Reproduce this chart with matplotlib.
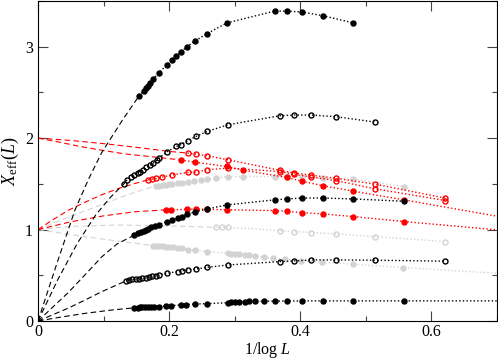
import matplotlib.pyplot as plt
from matplotlib.ticker import MultipleLocator

plt.rcParams['font.family'] = ['Liberation Serif', 'DejaVu Serif']
plt.rcParams['mathtext.fontset'] = 'custom'
plt.rcParams['mathtext.rm'] = 'Liberation Serif'
plt.rcParams['mathtext.it'] = 'Liberation Serif:italic'

# === datos: x = 1/log L, y = X_eff(L) ===
# negro lleno, arriba
a_x = [0.154, 0.161, 0.164, 0.168, 0.171, 0.176, 0.184, 0.196, 0.205, 0.211, 0.218,
       0.227, 0.239, 0.257, 0.288, 0.361, 0.379, 0.402, 0.434, 0.481]
a_y = [2.46, 2.52, 2.55, 2.57, 2.60, 2.65, 2.71, 2.80, 2.86, 2.90, 2.94,
       3.00, 3.06, 3.14, 3.26, 3.39, 3.39, 3.38, 3.34, 3.26]
a_fit_x = [0.0, 0.03, 0.0565, 0.077, 0.097, 0.129, 0.154]
a_fit_y = [0.0, 0.655, 1.216, 1.55, 1.84, 2.20, 2.46]

# negro abierto, segundo
b_x = [0.131, 0.136, 0.142, 0.147, 0.152, 0.155, 0.160, 0.165, 0.171, 0.176, 0.181,
       0.185, 0.196, 0.211, 0.218, 0.228, 0.241, 0.258, 0.290, 0.369, 0.390, 0.417,
       0.455, 0.514]
b_y = [1.50, 1.544, 1.574, 1.599, 1.618, 1.635, 1.654, 1.679, 1.701, 1.727, 1.756,
       1.782, 1.848, 1.909, 1.928, 1.971, 2.019, 2.073, 2.147, 2.245, 2.253, 2.253,
       2.234, 2.176]
b_fit_x = [0.0, 0.03, 0.06, 0.088, 0.11, 0.131]
b_fit_y = [0.0, 0.45, 0.85, 1.16, 1.35, 1.50]

# negro lleno, medio
c_x = [0.147, 0.153, 0.157, 0.161, 0.164, 0.168, 0.173, 0.178, 0.184, 0.196, 0.205,
       0.213, 0.219, 0.227, 0.240, 0.258, 0.288, 0.361, 0.379, 0.402, 0.434, 0.481, 0.558]
c_y = [0.94, 0.96, 0.97, 0.985, 1.0, 1.01, 1.025, 1.04, 1.055, 1.085, 1.10,
       1.125, 1.14, 1.165, 1.195, 1.225, 1.27, 1.325, 1.335, 1.345, 1.345, 1.335, 1.31]
c_fit_x = [0.0, 0.046, 0.075, 0.097, 0.12, 0.147]
c_fit_y = [0.0, 0.31, 0.53, 0.70, 0.84, 0.94]

# negro abierto, abajo
d_x = [0.134, 0.139, 0.144, 0.149, 0.154, 0.159, 0.164, 0.169, 0.174, 0.180, 0.185,
       0.196, 0.213, 0.220, 0.228, 0.241, 0.258, 0.290, 0.369, 0.390, 0.417, 0.455,
       0.514, 0.621]
d_y = [0.438, 0.449, 0.456, 0.46, 0.463, 0.467, 0.474, 0.482, 0.489, 0.497, 0.504,
       0.522, 0.54, 0.55, 0.559, 0.569, 0.587, 0.613, 0.65, 0.657, 0.668, 0.668,
       0.665, 0.654]
d_fit_x = [0.0, 0.046, 0.072, 0.097, 0.134]
d_fit_y = [0.0, 0.14, 0.23, 0.32, 0.438]

# negro lleno, el mas bajo (ultimo punto L=4, fuera del eje)
e_x = [0.147, 0.152, 0.155, 0.159, 0.163, 0.167, 0.172, 0.177, 0.184, 0.195, 0.203,
       0.218, 0.225, 0.240, 0.257, 0.289, 0.294, 0.301, 0.307, 0.315, 0.322, 0.331,
       0.345, 0.361, 0.379, 0.402, 0.434, 0.481, 0.558, 0.721]
e_y = [0.145, 0.147, 0.148, 0.149, 0.150, 0.151, 0.153, 0.155, 0.157, 0.165, 0.168,
       0.176, 0.18, 0.185, 0.19, 0.20, 0.205, 0.208, 0.21, 0.212, 0.214, 0.215,
       0.216, 0.218, 0.219, 0.22, 0.22, 0.22, 0.22, 0.22]
e_fit_x = [0.0, 0.03, 0.072, 0.11, 0.147]
e_fit_y = [0.0, 0.037, 0.084, 0.118, 0.145]

# rojo abierto, arriba
r1_x = [0.228, 0.241, 0.258, 0.290, 0.369, 0.390, 0.417, 0.455, 0.514, 0.621]
r1_y = [1.837, 1.826, 1.807, 1.763, 1.648, 1.62, 1.595, 1.56, 1.497, 1.344]
r1_fit_x = [0.0, 0.05, 0.1, 0.15, 0.2, 0.228]
r1_fit_y = [2.0, 1.975, 1.94, 1.90, 1.855, 1.837]

# rojo lleno, arriba
r2_x = [0.218, 0.239, 0.288, 0.313, 0.379, 0.402, 0.434, 0.481, 0.558, 0.721]
r2_y = [1.762, 1.737, 1.69, 1.65, 1.57, 1.53, 1.48, 1.42, 1.325, 1.12]
r2_fit_x = [0.0, 0.03, 0.06, 0.093, 0.13, 0.169, 0.218]
r2_fit_y = [2.0, 1.96, 1.915, 1.873, 1.83, 1.80, 1.762]

# rojo abierto, medio
r3_x = [0.168, 0.174, 0.180, 0.189, 0.204, 0.228, 0.241, 0.258, 0.290, 0.369, 0.390,
        0.417, 0.455, 0.514, 0.621]
r3_y = [1.544, 1.552, 1.559, 1.574, 1.596, 1.625, 1.629, 1.654, 1.673, 1.635, 1.605,
        1.575, 1.535, 1.446, 1.318]
r3_fit_x = [0.0, 0.021, 0.046, 0.072, 0.097, 0.123, 0.148, 0.168]
r3_fit_y = [1.0, 1.10, 1.21, 1.30, 1.38, 1.45, 1.505, 1.544]

# rojo lleno, abajo
r4_x = [0.195, 0.203, 0.227, 0.241, 0.258, 0.288, 0.361, 0.379, 0.402, 0.434, 0.481,
        0.558, 0.721]
r4_y = [1.216, 1.216, 1.223, 1.223, 1.223, 1.216, 1.208, 1.20, 1.186, 1.172, 1.142,
        1.088, 0.984]
r4_fit_x = [0.0, 0.05, 0.1, 0.148, 0.195]
r4_fit_y = [1.0, 1.085, 1.15, 1.195, 1.216]

# gris lleno, arriba
g1_x = [0.180, 0.185, 0.19, 0.195, 0.2, 0.205, 0.213, 0.220, 0.228, 0.238, 0.248,
        0.258, 0.271, 0.289, 0.313, 0.361, 0.379, 0.402, 0.434, 0.481, 0.558]
g1_y = [1.479, 1.482, 1.486, 1.49, 1.497, 1.50, 1.508, 1.514, 1.525, 1.536, 1.54,
        1.551, 1.562, 1.58, 1.58, 1.58, 1.575, 1.575, 1.563, 1.552, 1.47]
g1_fit_x = [0.0, 0.03, 0.07, 0.1, 0.14, 0.18]
g1_fit_y = [1.0, 1.09, 1.20, 1.28, 1.39, 1.479]

# gris abierto
g2_x = [0.271, 0.280, 0.289, 0.369, 0.390, 0.417, 0.455, 0.514, 0.621]
g2_y = [1.025, 1.025, 1.025, 0.989, 0.978, 0.967, 0.953, 0.923, 0.869]
g2_fit_x = [0.0, 0.05, 0.12, 0.2, 0.271]
g2_fit_y = [1.0, 1.035, 1.05, 1.04, 1.025]

# gris lleno, abajo
g3_x = [0.175, 0.18, 0.185, 0.19, 0.195, 0.2, 0.206, 0.213, 0.22, 0.228, 0.24, 0.257,
        0.289, 0.294, 0.301, 0.307, 0.315, 0.322, 0.331, 0.345, 0.359, 0.377, 0.401,
        0.433, 0.480, 0.556, 0.721]
g3_y = [0.825, 0.82, 0.82, 0.815, 0.81, 0.81, 0.805, 0.80, 0.795, 0.78, 0.775, 0.76,
        0.74, 0.734, 0.734, 0.731, 0.723, 0.719, 0.712, 0.698, 0.687, 0.676, 0.66,
        0.643, 0.621, 0.584, 0.513]
g3_fit_x = [0.0, 0.05, 0.1, 0.175]
g3_fit_y = [1.0, 0.945, 0.895, 0.825]

GRAY = '#d3d3d3'
RED = '#ff0000'
# orden de dibujo: gris abajo, luego rojo, negro encima
series = [
    (g3_x, g3_y, g3_fit_x, g3_fit_y, GRAY, True),
    (g2_x, g2_y, g2_fit_x, g2_fit_y, GRAY, False),
    (g1_x, g1_y, g1_fit_x, g1_fit_y, GRAY, True),
    (r4_x, r4_y, r4_fit_x, r4_fit_y, RED, True),
    (r3_x, r3_y, r3_fit_x, r3_fit_y, RED, False),
    (r2_x, r2_y, r2_fit_x, r2_fit_y, RED, True),
    (r1_x, r1_y, r1_fit_x, r1_fit_y, RED, False),
    (e_x, e_y, e_fit_x, e_fit_y, 'black', True),
    (d_x, d_y, d_fit_x, d_fit_y, 'black', False),
    (c_x, c_y, c_fit_x, c_fit_y, 'black', True),
    (b_x, b_y, b_fit_x, b_fit_y, 'black', False),
    (a_x, a_y, a_fit_x, a_fit_y, 'black', True),
]

fig = plt.figure(figsize=(4.98, 3.61), dpi=100)
ax = fig.add_axes([0.0763, 0.1108, 0.9217, 0.8864])

for x, y, fx, fy, col, filled in series:
    ax.plot(fx, fy, color=col, lw=0.8, dashes=(5, 3))   # ajuste hacia L -> inf
    ax.plot(x, y, color=col, lw=1.0, dashes=(1, 1.6))
    ax.plot(x, y, ls='none', marker='o', ms=3.6,
            mfc=col if filled else 'none', mec=col, mew=1.0)

ax.set_xlim(0, 0.7)
ax.set_ylim(0, 3.5)
ax.xaxis.set_major_locator(MultipleLocator(0.2))
ax.xaxis.set_minor_locator(MultipleLocator(0.1))
ax.yaxis.set_major_locator(MultipleLocator(1))
ax.yaxis.set_minor_locator(MultipleLocator(0.5))
ax.set_xticks([0, 0.2, 0.4, 0.6])
ax.set_xticklabels(['0', '0.2', '0.4', '0.6'])
ax.set_yticks([0, 1, 2, 3])
ax.set_yticklabels(['0', '1', '2', '3'])
ax.tick_params(which='both', direction='in', top=True, right=True,
               labelsize=11.5, width=0.8, color='#444444')
ax.tick_params(which='major', length=7)
ax.tick_params(which='minor', length=3.5)
ax.tick_params(axis='x', pad=2)
for s in ax.spines.values():
    s.set_linewidth(0.8)
ax.set_xlabel(r'1/log $L$', fontsize=11.5, labelpad=0)
ax.set_ylabel(r'$X_{\rm eff}(L)$', fontsize=13, labelpad=3)

plt.savefig('out.png', dpi=100)
